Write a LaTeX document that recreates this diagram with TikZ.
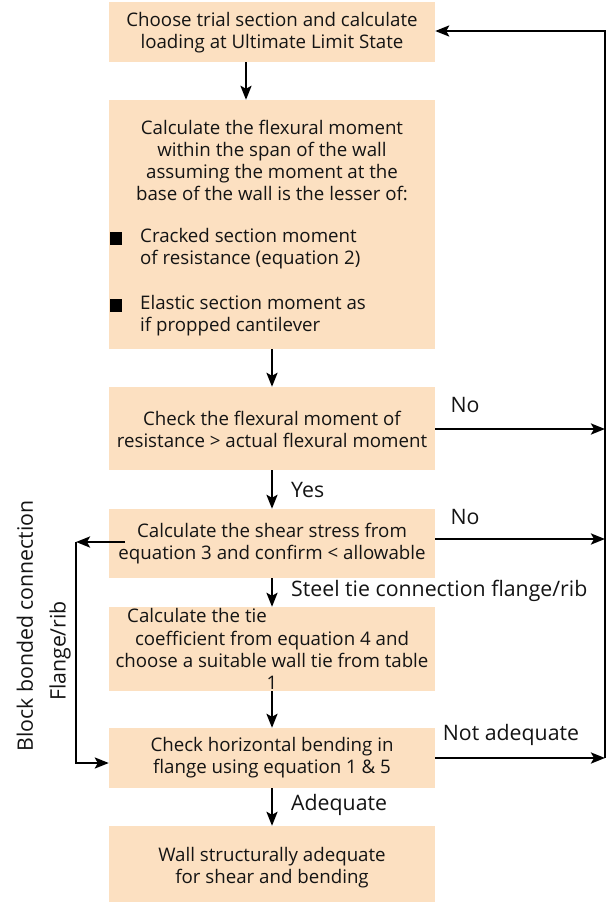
\documentclass[tikz,border=0pt]{standalone}
\usepackage{fontspec}
\setmainfont{Open Sans}
\usetikzlibrary{arrows.meta}
\definecolor{boxfill}{RGB}{252,224,193}
\definecolor{ink}{RGB}{20,20,20}
\begin{document}
\begin{tikzpicture}[x=1pt,y=-1pt,
  box/.style={draw=none,fill=boxfill,minimum width=326pt,inner sep=0pt},
  txt/.style={text=ink,font=\fontsize{18.7}{22}\selectfont,align=center,inner sep=0pt},
  lbl/.style={text=ink,font=\fontsize{21.3}{24}\selectfont,inner sep=0pt},
  arr/.style={draw=black,line width=2.5pt,-{Stealth[length=14pt,width=11pt,inset=3pt]}},
  ln/.style={draw=black,line width=2.5pt}]
\useasboundingbox (0,0) rectangle (608,903);
% boxes
\node[box,minimum height=60pt] (b1) at (272,32) {};
\node[box,minimum height=249pt] (b2) at (272,224.5) {};
\node[box,minimum height=83pt] (b3) at (272,428.5) {};
\node[box,minimum height=69pt] (b4) at (272,543.5) {};
\node[box,minimum height=84pt] (b5) at (272,649) {};
\node[box,minimum height=60pt] (b6) at (272,758) {};
\node[box,minimum height=76pt] (b7) at (272,864) {};
% texts
\node[txt] (t1) at (272,33) {Choose trial section and calculate\\loading at Ultimate Limit State};
\node[txt] (t2) at (272,160) {Calculate the flexural moment\\within the span of the wall\\assuming the moment at the\\base of the wall is the lesser of:};
\node[txt,anchor=west,align=left] (t2a) at (140,248.5) {Cracked section moment\\of resistance (equation 2)};
\node[txt,anchor=west,align=left] (t2b) at (140,316) {Elastic section moment as\\if propped cantilever};
\node[fill=black,minimum size=12.5pt,inner sep=0pt] (q1) at (116,238.5) {};
\node[fill=black,minimum size=12.5pt,inner sep=0pt] (q2) at (116,305.5) {};
\node[txt] (t3) at (272,429) {Check the flexural moment of\\resistance > actual flexural moment};
\node[txt] (t4) at (272,544) {Calculate the shear stress from\\equation 3 and confirm < allowable};
\node[txt,anchor=west] (t5a) at (127,615) {Calculate the tie};
\node[txt] (t5) at (272,660) {coefficient from equation 4 and\\choose a suitable wall tie from table\\1};
\node[txt] (t6) at (272,758) {Check horizontal bending in\\flange using equation 1 \& 5};
\node[txt] (t7) at (272,868) {Wall structurally adequate\\for shear and bending};
% vertical arrows
\draw[arr] ([xshift=-26pt]b1.south) -- ([xshift=-26pt]b2.north);
\draw[arr] (b2.south) -- (b3.north);
\draw[arr] (b3.south) -- (b4.north);
\draw[arr] (b4.south) -- (b5.north);
\draw[arr] (b5.south) -- (b6.north);
\draw[arr] (b6.south) -- (b7.north);
\node[lbl,anchor=west] (yes) at (291,490) {Yes};
\node[lbl,anchor=west] (steel) at (291,591) {Steel tie connection flange/rib};
\node[lbl,anchor=west] (adeq) at (291,805) {Adequate};
% right loop
\coordinate (r1) at (605,31);
\coordinate (r3) at (605,429);
\coordinate (r4) at (605,539);
\coordinate (r6) at (605,758);
\draw[arr] (b3.east |- r3) -- (r3);
\draw[arr] (b4.east |- r4) -- (r4);
\draw[arr] (b6.east |- r6) -- (r6);
\draw[arr] (r6) -- (r1) -- (b1.east |- r1);
\node[lbl] (no1) at (465,405) {No};
\node[lbl] (no2) at (465,517) {No};
\node[lbl] (nad) at (511,735) {Not adequate};
% left loop
\coordinate (s) at (125,542);
\coordinate (l1) at (76,542);
\coordinate (l2) at (76,763);
\draw[arr] (s) -- (l1);
\draw[arr] (l1) -- (l2) -- (b6.west |- l2);
\node[lbl,rotate=90] (bb) at (25,626) {Block bonded connection};
\node[lbl,rotate=90] (fr) at (60,651) {Flange/rib};
\end{tikzpicture}
\end{document}
